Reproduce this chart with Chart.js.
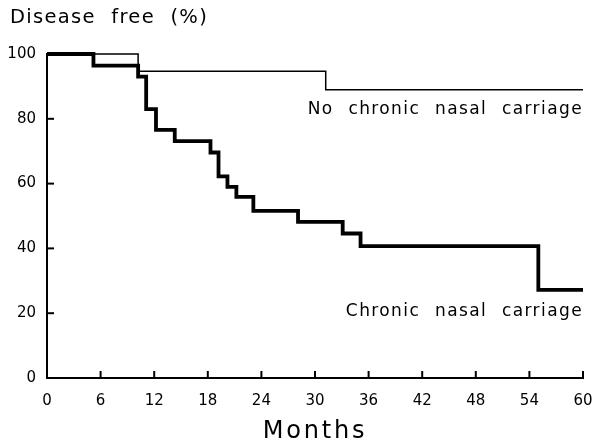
<!DOCTYPE html>
<html>
<head>
<meta charset="utf-8">
<script src="https://cdn.jsdelivr.net/npm/chart.js@4"></script>
<style>
  body { margin: 0; background: #fff; }
  #wrap { width: 595px; height: 446px; }
</style>
</head>
<body>
<div id="wrap"><canvas id="km" width="595" height="446"></canvas></div>
<script>
// Kaplan-Meier steps: time of each drop (months) and value after it (%)
const noChronicMonths = [0, 10.2, 31.2, 60];
const noChronicFree = [100, 94.7, 89.0, 89.0];

const chronicMonths = [0, 5.2, 10.2, 11.1, 12.2, 14.3, 18.3, 19.2, 20.2, 21.2, 23.1, 28.1, 33.1, 35.1, 55.0, 60];
const chronicFree = [100, 96.4, 93.0, 83.0, 76.6, 73.1, 69.6, 62.2, 59.0, 55.9, 51.6, 48.2, 44.6, 40.7, 27.2, 27.2];

const xTicks = [0, 6, 12, 18, 24, 30, 36, 42, 48, 54, 60];
const yTicks = [0, 20, 40, 60, 80, 100];

const curveLabels = [
  { text: "No chronic nasal carriage", x: 60, y: 82.8 },
  { text: "Chronic nasal carriage", x: 60, y: 20.4 }
];

const FONT = "'DejaVu Sans', sans-serif";

function toPoints(xs, ys) {
  return xs.map((x, i) => ({ x: x, y: ys[i] }));
}

// inward tick marks, curve labels, headings
const extras = {
  id: "extras",
  afterDraw(chart) {
    const ctx = chart.ctx;
    const xs = chart.scales.x, ys = chart.scales.y;
    const area = chart.chartArea;
    ctx.save();
    ctx.strokeStyle = "#000";
    ctx.lineWidth = 2;
    xTicks.forEach(t => {
      const px = xs.getPixelForValue(t);
      ctx.beginPath();
      ctx.moveTo(px, area.bottom);
      ctx.lineTo(px, area.bottom - 7);
      ctx.stroke();
    });
    yTicks.forEach(t => {
      const py = ys.getPixelForValue(t);
      ctx.beginPath();
      ctx.moveTo(area.left, py);
      ctx.lineTo(area.left + 7, py);
      ctx.stroke();
    });

    ctx.fillStyle = "#000";
    ctx.textBaseline = "middle";
    ctx.font = "17px " + FONT;
    ctx.letterSpacing = "1.4px";
    ctx.wordSpacing = "8px";
    ctx.textAlign = "right";
    curveLabels.forEach(l => {
      ctx.fillText(l.text, xs.getPixelForValue(l.x), ys.getPixelForValue(l.y));
    });

    ctx.textAlign = "left";
    ctx.font = "19.5px " + FONT;
    ctx.letterSpacing = "1.3px";
    ctx.wordSpacing = "8px";
    ctx.fillText("Disease free (%)", 10, 18);

    ctx.textAlign = "center";
    ctx.font = "24px " + FONT;
    ctx.letterSpacing = "2.8px";
    ctx.wordSpacing = "0px";
    ctx.fillText("Months", (area.left + area.right) / 2, 432);
    ctx.restore();
  }
};

new Chart("km", {
  type: "line",
  data: {
    datasets: [{
      label: "Chronic nasal carriage",
      data: toPoints(chronicMonths, chronicFree),
      stepped: "before",
      borderColor: "#000",
      borderWidth: 3.8,
      pointRadius: 0,
      fill: false,
      clip: false
    }, {
      label: "No chronic nasal carriage",
      data: toPoints(noChronicMonths, noChronicFree),
      stepped: "before",
      borderColor: "#000",
      borderWidth: 1.5,
      pointRadius: 0,
      fill: false,
      clip: false
    }]
  },
  options: {
    responsive: false,
    animation: false,
    layout: { padding: { left: 0, right: 12, top: 54, bottom: 0 } },
    scales: {
      x: {
        type: "linear",
        min: 0,
        max: 60,
        afterBuildTicks(scale) { scale.ticks = xTicks.map(v => ({ value: v })); },
        afterFit(scale) {
          scale.height = 68;
          scale.paddingLeft = 0;
          scale.paddingRight = 0;
        },
        grid: { display: false, drawTicks: false },
        border: { display: true, width: 2, color: "#000" },
        ticks: { color: "#000", padding: 14, font: { family: FONT, size: 15 } }
      },
      y: {
        min: 0,
        max: 100,
        afterBuildTicks(scale) { scale.ticks = yTicks.map(v => ({ value: v })); },
        afterFit(scale) { scale.width = 47; },
        grid: { display: false, drawTicks: false },
        border: { display: true, width: 2, color: "#000" },
        ticks: { color: "#000", padding: 11, font: { family: FONT, size: 15 } }
      }
    },
    plugins: {
      legend: { display: false },
      tooltip: { enabled: false }
    }
  },
  plugins: [extras]
});
</script>
</body>
</html>
